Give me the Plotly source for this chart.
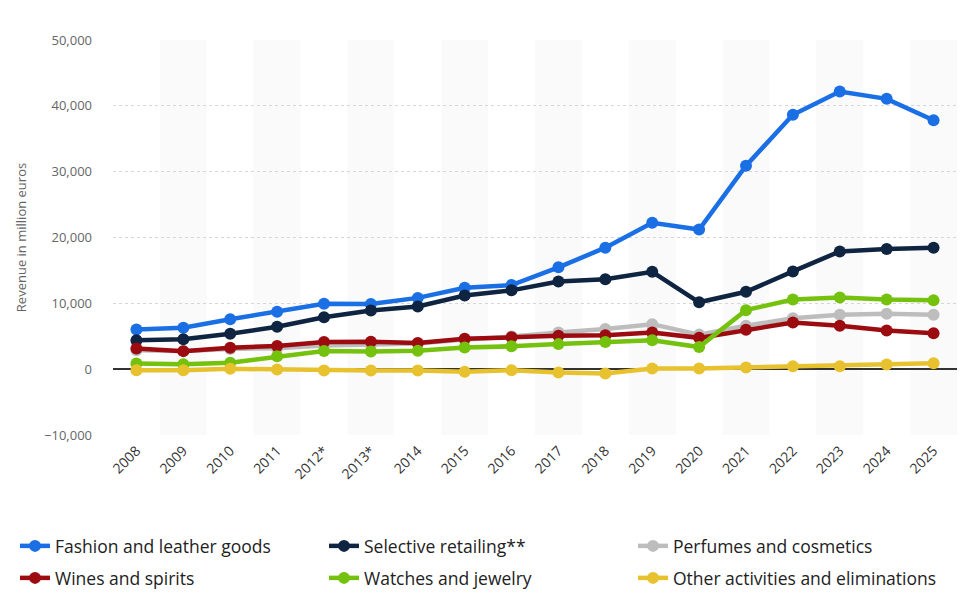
import plotly.graph_objects as go

years = ["2008", "2009", "2010", "2011", "2012*", "2013*", "2014", "2015", "2016",
         "2017", "2018", "2019", "2020", "2021", "2022", "2023", "2024", "2025"]

fashion_leather = [6010, 6302, 7581, 8712, 9926, 9883, 10828, 12369, 12775,
                   15472, 18455, 22237, 21207, 30896, 38648, 42169, 41060, 37800]
selective_retailing = [4376, 4533, 5378, 6436, 7879, 8903, 9534, 11193, 11973,
                       13311, 13646, 14791, 10155, 11754, 14852, 17885, 18262, 18450]
perfumes_cosmetics = [2868, 2741, 3076, 3195, 3613, 3717, 3916, 4517, 4953,
                      5560, 6092, 6835, 5248, 6608, 7722, 8271, 8418, 8250]
wines_spirits = [3126, 2740, 3261, 3524, 4122, 4173, 3973, 4603, 4835,
                 5084, 5143, 5576, 4755, 5974, 7099, 6602, 5862, 5450]
watches_jewelry = [879, 764, 985, 1949, 2750, 2697, 2782, 3308, 3468,
                   3805, 4123, 4405, 3356, 8964, 10581, 10902, 10577, 10450]
other_activities = [-150, -150, 50, -50, -200, -200, -200, -400, -150,
                    -500, -650, 100, 100, 250, 450, 450, 700, 900]

series_names = ["Fashion and leather goods", "Selective retailing**", "Perfumes and cosmetics",
                "Wines and spirits", "Watches and jewelry", "Other activities and eliminations"]
series_values = [fashion_leather, selective_retailing, perfumes_cosmetics,
                 wines_spirits, watches_jewelry, other_activities]
series_colors = ["#1a6fe5", "#0e2440", "#bdbdbd", "#9c0b10", "#74c20d", "#e8c12f"]

# plot area in pixels, used to place legend entries in paper coordinates
W, H = 963, 593
ML, MR, MT, MB = 113, 6, 40, 158
PW, PH = W - ML - MR, H - MT - MB

def px_x(px):
    return (px - ML) / PW

def px_y(py):
    return (H - MB - py) / PH

legend_cols = [15, 324, 633]
legend_rows = [546, 578]

fig = go.Figure()
legends = {}
for k, (name, values, color) in enumerate(zip(series_names, series_values, series_colors)):
    key = "legend" if k == 0 else f"legend{k + 1}"
    fig.add_trace(go.Scatter(
        x=years, y=values, name=name, mode="lines+markers",
        line=dict(color=color, width=4.5),
        marker=dict(color=color, size=12),
        legend=key,
    ))
    legends[key] = dict(
        x=px_x(legend_cols[k % 3]), y=px_y(legend_rows[k // 3]),
        xanchor="left", yanchor="middle", orientation="h",
        font=dict(family="Open Sans", size=17.5, color="#222"),
        bgcolor="rgba(0,0,0,0)", itemwidth=30,
    )

# light banding behind every other year
shapes = []
for i in range(1, len(years), 2):
    shapes.append(dict(type="rect", xref="x", yref="paper", x0=i - 0.5, x1=i + 0.5,
                       y0=0, y1=1, fillcolor="#fafafa", line=dict(width=0), layer="below"))

fig.update_layout(
    width=W, height=H,
    margin=dict(l=ML, r=MR, t=MT, b=MB, autoexpand=False),
    paper_bgcolor="white", plot_bgcolor="white",
    shapes=shapes,
    showlegend=True,
    xaxis=dict(
        type="category", range=[-0.5, len(years) - 0.5],
        tickangle=-45, showgrid=False, showline=False, ticks="",
        tickfont=dict(family="Open Sans", size=14, color="#333"),
        ticklabelstandoff=4,
    ),
    yaxis=dict(
        range=[-10000, 50000], tickvals=[-10000, 0, 10000, 20000, 30000, 40000, 50000],
        tickformat=",", showgrid=True, gridcolor="#d6d6d6", griddash="dot", gridwidth=1,
        zeroline=True, zerolinecolor="#333", zerolinewidth=1.5,
        tickfont=dict(family="Open Sans", size=13, color="#666"),
        ticklabelstandoff=20,
        title=dict(text="Revenue in million euros", standoff=14,
                   font=dict(family="Open Sans", size=13, color="#666")),
    ),
    **legends,
)

fig.write_html("out.html")
